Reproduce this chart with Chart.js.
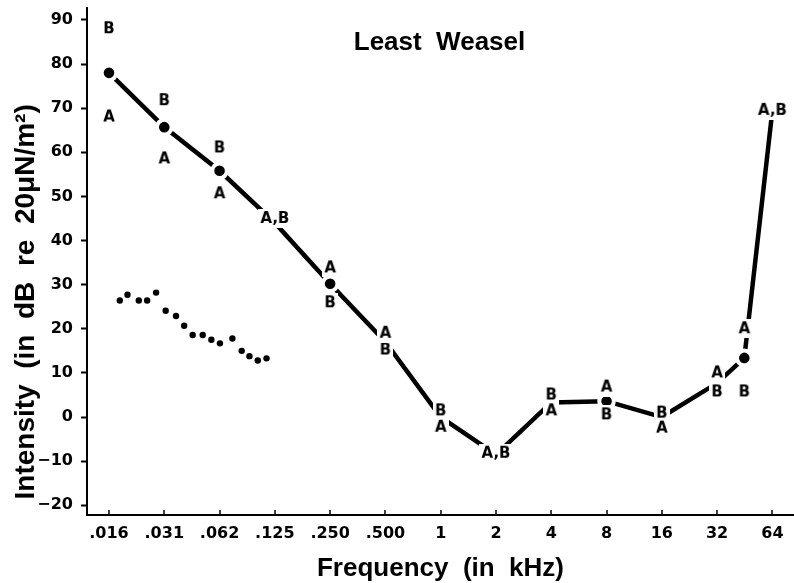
<!DOCTYPE html>
<html><head><meta charset="utf-8">
<script src="https://cdn.jsdelivr.net/npm/chart.js@4.4.1/dist/chart.umd.min.js"></script>
<style>html,body{margin:0;padding:0;background:#fff}#wrap{width:794px;height:583px}</style>
</head><body><div id="wrap"><canvas id="c" width="794" height="583"></canvas></div>
<script>
// ---- data ----
const panelTitle = 'Least  Weasel';
const tickFreqs = [0.015625, 0.03125, 0.0625, 0.125, 0.25, 0.5, 1, 2, 4, 8, 16, 32, 64];
const tickLabels = ['.016', '.031', '.062', '.125', '.250', '.500', '1', '2', '4', '8', '16', '32', '64'];
const yTicks = [-20, -10, 0, 10, 20, 30, 40, 50, 60, 70, 80, 90];

const testFreqs     = [0.015625, 0.03125, 0.0625, 0.125, 0.25, 0.5, 1, 2, 4, 8, 16, 32, 45, 64];
const meanThreshold = [78, 65.7, 55.8, 44, 30.2, 17, 0, -8.5, 3.3, 3.6, 0, 7.7, 13.4, 69.5];
const animalA       = [68, 58.5, 50.6, 45, 33.8, 19, -2.3, -8.2, 1.4, 6.8, -2.5, 10, 20, 69.5];
const animalB       = [88, 71.7, 61, 45, 25.9, 15.2, 1.4, -8.2, 5, 0.5, 0.9, 5.7, 5.7, 69.5];

const dottedFreqs = [0.0179, 0.0197, 0.0227, 0.0252, 0.0282, 0.0318, 0.0362, 0.0401, 0.0446, 0.0506, 0.0564, 0.0628, 0.0734, 0.0825, 0.0909, 0.1009, 0.1126];
const dottedDb    = [26.4, 27.7, 26.4, 26.4, 28.2, 24.1, 22.9, 20.7, 18.6, 18.6, 17.5, 16.7, 17.8, 15.0, 13.8, 12.8, 13.3];

// ---- label glyph images (text drawn as point markers) ----
function labelImage(text) {
  const c = document.createElement('canvas');
  const g = c.getContext('2d');
  const font = 'bold 15px "DejaVu Sans"';
  g.font = font;
  const w = Math.ceil(g.measureText(text).width) + 4;
  const h = 19;
  c.width = w; c.height = h;
  g.fillStyle = '#fff'; g.fillRect(0, 0, w, h);
  g.font = font; g.fillStyle = '#000'; g.textAlign = 'center'; g.textBaseline = 'middle';
  g.fillText(text, w / 2, h / 2 + 1);
  return c;
}
const imgA = labelImage('A'), imgB = labelImage('B'), imgAB = labelImage('A,B');
const same = i => animalA[i] === animalB[i];

const pts = (xs, ys) => xs.map((x, i) => ({x: x, y: ys[i]}));

const innerTicks = {
  id: 'innerTicks',
  afterDraw(chart) {
    const s = chart.scales.x, ctx = chart.ctx;
    ctx.save(); ctx.strokeStyle = '#000'; ctx.lineWidth = 1.5;
    s.ticks.forEach(t => {
      const px = Math.round(s.getPixelForValue(t.value));
      ctx.beginPath(); ctx.moveTo(px, s.top); ctx.lineTo(px, s.top - 5); ctx.stroke();
    });
    ctx.restore();
  }
};
const titlePlugin = {
  id: 'panelTitle',
  afterDraw(chart) {
    const ctx = chart.ctx, a = chart.chartArea;
    ctx.save();
    ctx.font = 'bold 26px "Liberation Sans"'; ctx.fillStyle = '#000';
    ctx.textAlign = 'center'; ctx.textBaseline = 'alphabetic';
    ctx.fillText(panelTitle, (a.left + a.right) / 2 - 1, a.top + 42);
    ctx.restore();
  }
};

const tickFont = {family: 'DejaVu Sans', weight: 'bold', size: 16};

new Chart(document.getElementById('c'), {
  type: 'scatter',
  data: {
    datasets: [
      {
        label: 'A', order: 0, data: pts(testFreqs, animalA),
        pointStyle: c => same(c.dataIndex) ? imgAB : imgA, pointRadius: 5
      },
      {
        label: 'B', order: 0, data: pts(testFreqs, animalB),
        pointStyle: imgB, pointRadius: c => same(c.dataIndex) ? 0 : 5
      },
      {
        label: 'Mean', order: 1, data: pts(testFreqs, meanThreshold), showLine: true,
        borderColor: '#000', borderWidth: 4.5, tension: 0,
        pointRadius: c => Math.abs(animalA[c.dataIndex] - animalB[c.dataIndex]) > 5 ? 7.3 : 0,
        pointBackgroundColor: '#000', pointBorderColor: '#fff', pointBorderWidth: 4
      },
      {
        label: 'Dotted', order: 2, data: pts(dottedFreqs, dottedDb),
        pointRadius: 3.2, pointBackgroundColor: '#000', pointBorderWidth: 0
      }
    ]
  },
  options: {
    responsive: false, animation: false, devicePixelRatio: 1, events: [],
    layout: {autoPadding: false, padding: {top: 8, left: 0, right: 0, bottom: 0}},
    plugins: {legend: {display: false}, tooltip: {enabled: false}},
    scales: {
      x: {
        type: 'logarithmic', min: 0.01186, max: 83.9,
        afterFit(s) { s.height = 68; s.paddingLeft = 0; s.paddingRight = 0; },
        afterBuildTicks(s) { s.ticks = tickFreqs.map(v => ({value: v})); },
        grid: {display: false, drawTicks: false},
        border: {display: true, color: '#000', width: 2},
        ticks: {autoSkip: false, maxRotation: 0, padding: 9, color: '#000', font: tickFont,
                callback: (v, i) => tickLabels[i]},
        title: {display: true, text: 'Frequency  (in  kHz)', color: '#000',
                font: {family: 'Liberation Sans', weight: 'bold', size: 26, lineHeight: 1},
                padding: {top: 0, bottom: 1}}
      },
      y: {
        min: -22.2, max: 92.7,
        afterFit(s) { s.width = 87; s.paddingTop = 0; s.paddingBottom = 0; },
        afterBuildTicks(s) { s.ticks = yTicks.map(v => ({value: v})); },
        grid: {drawOnChartArea: false, drawTicks: true, tickLength: 6, tickWidth: 2, tickColor: '#000'},
        border: {display: true, color: '#000', width: 2},
        ticks: {color: '#000', font: tickFont, padding: 8,
                callback: v => String(v).replace('-', '\u2212')},
        title: {display: true, text: '  Intensity  (in  dB  re  20μN/m²)', color: '#000', align: 'start',
                font: {family: 'Liberation Sans', weight: 'bold', size: 28, lineHeight: 1},
                padding: {top: 12, bottom: 0}}
      }
    }
  },
  plugins: [innerTicks, titlePlugin]
});
</script></body></html>
